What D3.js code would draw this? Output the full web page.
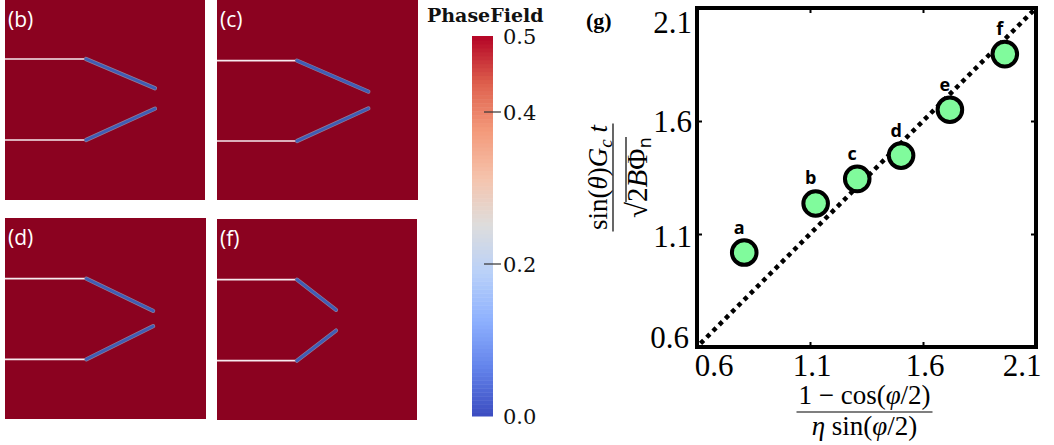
<!DOCTYPE html>
<html>
<head>
<meta charset="utf-8">
<script src="https://cdn.jsdelivr.net/npm/d3@7"></script>
<style>
  html, body { margin: 0; padding: 0; background: #fff; }
  svg { display: block; }
</style>
</head>
<body>
<svg id="fig" width="1054" height="445"></svg>
<script>
// ---- scatter data: crack cases a–f ----
const caseLabels = ["a", "b", "c", "d", "e", "f"];
const energyTerm = [0.809, 1.125, 1.309, 1.503, 1.719, 1.962];   // (1 - cos(φ/2)) / (η sin(φ/2))
const timeTerm   = [1.018, 1.235, 1.344, 1.447, 1.650, 1.896];   // sin(θ) Gc t / sqrt(2 B Φn)
const xTickValues = [0.6, 1.1, 1.6, 2.1];
const yTickValues = [0.6, 1.1, 1.6, 2.1];
const referenceLine = [0.6, 2.1];                                  // y = x

// ---- phase-field snapshots (normalised domain coordinates) ----
const panelNames   = ["(b)", "(c)", "(d)", "(f)"];
const notchUpperY  = [0.295, 0.303, 0.302, 0.302];
const notchLowerY  = [0.700, 0.705, 0.703, 0.705];
const notchTipX    = [0.405, 0.398, 0.405, 0.400];
const branchEndX   = [0.750, 0.753, 0.737, 0.595];
const branchUpperY = [0.4415, 0.458, 0.462, 0.452];
const branchLowerY = [0.5435, 0.542, 0.538, 0.555];

// ---- colour bar ----
const colorbarDomain = [0.0, 0.5];
const colorbarTicks  = [0.0, 0.2, 0.4, 0.5];
const coolWarm = ["#3b4cc0", "#6282ea", "#8db0fe", "#b8d0f9", "#dddddd",
                  "#f5c4ad", "#f49a7b", "#de604d", "#b40426"];

const svg = d3.select("#fig");
const serif = "'Liberation Serif', 'Times New Roman', serif";

// ================= snapshots =================
const panelBoxes = [
  { x: 5,   y: 0,   w: 200, h: 200 },
  { x: 217, y: 0,   w: 201, h: 200 },
  { x: 5,   y: 218, w: 201, h: 201 },
  { x: 217, y: 219, w: 200, h: 201 }
];

panelNames.forEach((name, i) => {
  const b = panelBoxes[i];
  const px = d3.scaleLinear().domain([0, 1]).range([b.x, b.x + b.w]);
  const py = d3.scaleLinear().domain([0, 1]).range([b.y, b.y + b.h]);
  const g = svg.append("g");
  g.append("rect").attr("x", px(0)).attr("y", py(0))
    .attr("width", px(1) - px(0)).attr("height", py(1) - py(0))
    .attr("fill", "#8b0220");

  // initial notches (white)
  [notchUpperY[i], notchLowerY[i]].forEach(ny => {
    g.append("line")
      .attr("x1", px(0)).attr("x2", px(notchTipX[i]))
      .attr("y1", py(ny)).attr("y2", py(ny))
      .attr("stroke", "#f6eaee").attr("stroke-width", 1.7);
  });

  // branched cracks (phase-field ~ 0)
  const branches = [
    [notchTipX[i], notchUpperY[i], branchEndX[i], branchUpperY[i]],
    [notchTipX[i], notchLowerY[i], branchEndX[i], branchLowerY[i]]
  ];
  branches.forEach(([x1, y1, x2, y2]) => {
    g.append("line")
      .attr("x1", px(x1)).attr("y1", py(y1)).attr("x2", px(x2)).attr("y2", py(y2))
      .attr("stroke", "#8f7c98").attr("stroke-width", 4.2).attr("stroke-linecap", "round");
    g.append("line")
      .attr("x1", px(x1)).attr("y1", py(y1)).attr("x2", px(x2)).attr("y2", py(y2))
      .attr("stroke", "#3f5db5").attr("stroke-width", 2.8).attr("stroke-linecap", "round");
  });

  g.append("text")
    .attr("x", px(0) + 3).attr("y", py(0) + 27)
    .attr("fill", "#ffffff")
    .style("font-family", "'Open Sans', sans-serif")
    .style("font-size", "21px")
    .text(name);
});

// ================= colour bar =================
const cbX = 472, cbW = 21;
const cbY = d3.scaleLinear().domain(colorbarDomain).range([416, 36]);
const cmap = d3.scaleLinear()
  .domain(d3.range(coolWarm.length).map(k => colorbarDomain[0] + k * (colorbarDomain[1] - colorbarDomain[0]) / (coolWarm.length - 1)))
  .range(coolWarm)
  .interpolate(d3.interpolateRgb);

const nBands = 96;
const bandStep = (colorbarDomain[1] - colorbarDomain[0]) / nBands;
svg.append("g").selectAll("rect")
  .data(d3.range(nBands))
  .join("rect")
  .attr("x", cbX)
  .attr("width", cbW)
  .attr("y", k => cbY(colorbarDomain[0] + (k + 1) * bandStep))
  .attr("height", k => cbY(colorbarDomain[0] + k * bandStep) - cbY(colorbarDomain[0] + (k + 1) * bandStep) + 0.5)
  .attr("fill", k => cmap(colorbarDomain[0] + (k + 0.5) * bandStep));

const cbAxis = svg.append("g");
cbAxis.selectAll("line")
  .data(colorbarTicks.filter(v => v > colorbarDomain[0] && v < colorbarDomain[1]))
  .join("line")
  .attr("x1", cbX + 12).attr("x2", cbX + 29)
  .attr("y1", d => cbY(d)).attr("y2", d => cbY(d))
  .attr("stroke", "#333").attr("stroke-width", 1.2);
cbAxis.selectAll("text")
  .data(colorbarTicks)
  .join("text")
  .attr("x", cbX + 31)
  .attr("y", d => cbY(d))
  .attr("dy", "0.36em")
  .style("font-family", "'DejaVu Serif', serif")
  .style("font-size", "21px")
  .attr("fill", "#111")
  .text(d => d.toFixed(1));

svg.append("text")
  .attr("x", 427).attr("y", 22)
  .style("font-family", "'DejaVu Serif', serif")
  .style("font-weight", "bold")
  .style("font-size", "19px")
  .attr("fill", "#111")
  .text("PhaseField");

// ================= scatter (g) =================
const x = d3.scaleLinear().domain([0.6, 2.1]).range([697, 1036]);
const y = d3.scaleLinear().domain([0.6, 2.1]).range([347, 8]);

const plot = svg.append("g");

// y = x reference line
plot.append("line")
  .attr("x1", x(referenceLine[0])).attr("y1", y(referenceLine[0]))
  .attr("x2", x(referenceLine[1])).attr("y2", y(referenceLine[1]))
  .attr("stroke", "#000").attr("stroke-width", 4.5)
  .attr("stroke-dasharray", "4.4 4.4")
  .attr("stroke-dashoffset", -5);

// ticks on all four sides (inward)
const tickLen = 5;
const xAxisB = d3.axisBottom(x).tickValues(xTickValues).tickSize(-tickLen).tickFormat("");
const xAxisT = d3.axisTop(x).tickValues(xTickValues).tickSize(-tickLen).tickFormat("");
const yAxisL = d3.axisLeft(y).tickValues(yTickValues).tickSize(-tickLen).tickFormat("");
const yAxisR = d3.axisRight(y).tickValues(yTickValues).tickSize(-tickLen).tickFormat("");
[[xAxisB, `translate(0,${y(0.6)})`], [xAxisT, `translate(0,${y(2.1)})`],
 [yAxisL, `translate(${x(0.6)},0)`], [yAxisR, `translate(${x(2.1)},0)`]].forEach(([ax, tr]) => {
  const gg = plot.append("g").attr("transform", tr).call(ax);
  gg.select(".domain").remove();
  gg.selectAll(".tick line").attr("stroke", "#000").attr("stroke-width", 2);
});

// tick labels
const nX = xTickValues.length, nY = yTickValues.length;
plot.append("g").selectAll("text")
  .data(xTickValues)
  .join("text")
  .attr("x", (d, i) => x(d) + (i === 0 ? 17 : i === nX - 1 ? -14 : 2))
  .attr("y", 376)
  .attr("text-anchor", "middle")
  .style("font-family", serif)
  .style("font-size", "31px")
  .text(d => d.toFixed(1));

plot.append("g").selectAll("text")
  .data(yTickValues)
  .join("text")
  .attr("x", (d, i) => i === 0 ? 689 : 692)
  .attr("y", (d, i) => y(d) + (i === 0 ? -10 : i === nY - 1 ? 14 : (d < 1.5 ? 2 : 0)))
  .attr("dy", "0.35em")
  .attr("text-anchor", "end")
  .style("font-family", serif)
  .style("font-size", "31px")
  .text(d => d.toFixed(1));

// frame
plot.append("rect")
  .attr("x", x(0.6)).attr("y", y(2.1))
  .attr("width", x(2.1) - x(0.6)).attr("height", y(0.6) - y(2.1))
  .attr("fill", "none").attr("stroke", "#000").attr("stroke-width", 4);

// points
const pts = caseLabels.map((c, i) => ({ c, xv: energyTerm[i], yv: timeTerm[i] }));
plot.append("g").selectAll("circle")
  .data(pts)
  .join("circle")
  .attr("cx", d => x(d.xv)).attr("cy", d => y(d.yv))
  .attr("r", 12.3)
  .attr("fill", "#80fb9c")
  .attr("stroke", "#000").attr("stroke-width", 4);

plot.append("g").selectAll("text")
  .data(pts)
  .join("text")
  .attr("x", d => x(d.xv) - 5)
  .attr("y", d => y(d.yv) - 19)
  .attr("text-anchor", "middle")
  .style("font-family", "'Open Sans', sans-serif")
  .style("font-weight", "bold")
  .style("font-size", "18px")
  .text(d => d.c);

// panel tag
svg.append("text")
  .attr("x", 586).attr("y", 28)
  .style("font-family", serif)
  .style("font-weight", "bold")
  .style("font-size", "22px")
  .text("(g)");

// ---- x-axis label: (1 - cos(φ/2)) / (η sin(φ/2)) ----
const xl = svg.append("g").attr("transform", `translate(${(x(0.6) + x(2.1)) / 2 - 2},0)`)
  .style("font-family", serif).style("font-size", "27px");
const xNum = xl.append("text").attr("y", 404).attr("text-anchor", "middle");
xNum.append("tspan").text("1 − cos(");
xNum.append("tspan").style("font-style", "italic").text("φ");
xNum.append("tspan").text("/2)");
xl.append("line").attr("x1", -68).attr("x2", 68).attr("y1", 412).attr("y2", 412)
  .attr("stroke", "#000").attr("stroke-width", 1.2);
const xDen = xl.append("text").attr("y", 435).attr("text-anchor", "middle");
xDen.append("tspan").style("font-style", "italic").text("η");
xDen.append("tspan").text(" sin(");
xDen.append("tspan").style("font-style", "italic").text("φ");
xDen.append("tspan").text("/2)");

// ---- y-axis label: sin(θ) Gc t / sqrt(2 B Φn) ----
const yl = svg.append("g")
  .attr("transform", `translate(613,${(y(0.6) + y(2.1)) / 2}) rotate(-90)`)
  .style("font-family", serif).style("font-size", "27px");
const yNum = yl.append("text").attr("y", -6).attr("text-anchor", "middle");
yNum.append("tspan").text("sin(");
yNum.append("tspan").style("font-style", "italic").text("θ");
yNum.append("tspan").text(")");
yNum.append("tspan").style("font-style", "italic").text("G");
yNum.append("tspan").style("font-style", "italic").style("font-size", "19px").attr("dy", 5).text("c");
yNum.append("tspan").style("font-style", "italic").attr("dy", -5).text(" t");
yl.append("line").attr("x1", -54).attr("x2", 54).attr("y1", 0).attr("y2", 0)
  .attr("stroke", "#000").attr("stroke-width", 1.2);
const yDen = yl.append("text").attr("y", 34).attr("text-anchor", "middle").style("font-size", "29px");
yDen.append("tspan").text("√");
const rad = yDen.append("tspan");
rad.append("tspan").text("2");
rad.append("tspan").style("font-style", "italic").text("B");
rad.append("tspan").text("Φ");
rad.append("tspan").style("font-size", "18px").style("font-family", "'DejaVu Sans', sans-serif").attr("dy", 4).text("n");
// overline of the radical
const bb = yDen.node().getBBox();
yl.append("line")
  .attr("x1", bb.x + 16).attr("x2", bb.x + bb.width)
  .attr("y1", 13).attr("y2", 13)
  .attr("stroke", "#000").attr("stroke-width", 1.2);
</script>
</body>
</html>
